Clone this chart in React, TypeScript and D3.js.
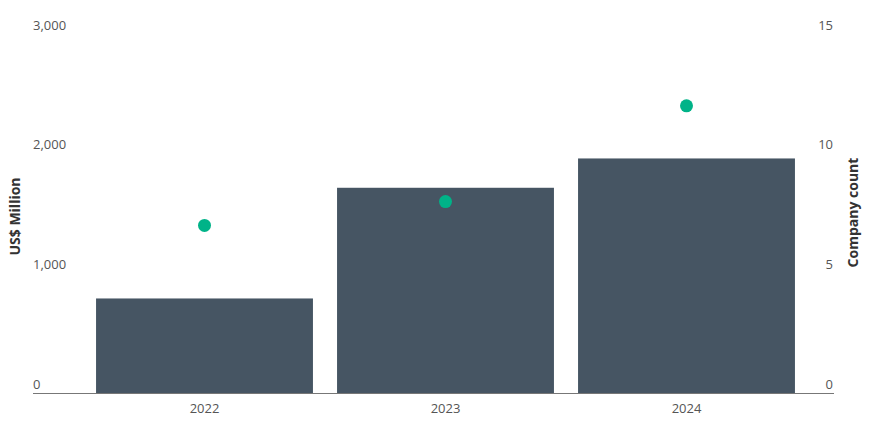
import React from "react";
import * as d3 from "d3";

const categories = ["2022", "2023", "2024"];
const investment = [790, 1715, 1960];
const companyCount = [7, 8, 12];
const leftTicks = [0, 1000, 2000, 3000];
const rightTicks = [0, 5, 10, 15];

const W = 872;
const H = 430;
const FONT = "'Open Sans', sans-serif";

export default function App() {
  const y0 = 393;
  const y1 = 34;
  const x = d3.scaleBand<string>().domain(categories).range([84, 807]).paddingInner(0.1).paddingOuter(0.05);
  const yL = d3.scaleLinear().domain([0, 3000]).range([y0, y1]);
  const yR = d3.scaleLinear().domain([0, 15]).range([y0, y1]);
  const fmt = d3.format(",");

  return (
    <svg width={W} height={H} style={{ position: "absolute", left: 0, top: 0, background: "#fff" }} fontFamily={FONT}>
      {categories.map((c, i) => (
        <rect key={c} x={x(c)} y={yL(investment[i])} width={x.bandwidth()} height={y0 - yL(investment[i])} fill="#465563" />
      ))}
      <line x1={33} x2={834} y1={y0 + 0.5} y2={y0 + 0.5} stroke="#777" strokeWidth={1} />
      {leftTicks.map((t) => (
        <text key={t} x={33} y={yL(t) - 4.5} fontSize={13} fill="#555">{fmt(t)}</text>
      ))}
      {rightTicks.map((t) => (
        <text key={t} x={833} y={yR(t) - 4.5} fontSize={13} fill="#555" textAnchor="end">{t}</text>
      ))}
      {categories.map((c) => (
        <text key={c} x={(x(c) as number) + x.bandwidth() / 2} y={413} fontSize={13} fill="#555" textAnchor="middle">{c}</text>
      ))}
      {categories.map((c, i) => (
        <circle key={c} cx={(x(c) as number) + x.bandwidth() / 2} cy={yR(companyCount[i])} r={6.5} fill="#00b388" />
      ))}
      <text transform={`translate(20,${(y0 + y1) / 2 + 3}) rotate(-90)`} textAnchor="middle" fontSize={14} fontWeight="bold" fill="#333">US$ Million</text>
      <text transform={`translate(858,${(y0 + y1) / 2 - 1}) rotate(-90)`} textAnchor="middle" fontSize={14} fontWeight="bold" fill="#333">Company count</text>
    </svg>
  );
}
